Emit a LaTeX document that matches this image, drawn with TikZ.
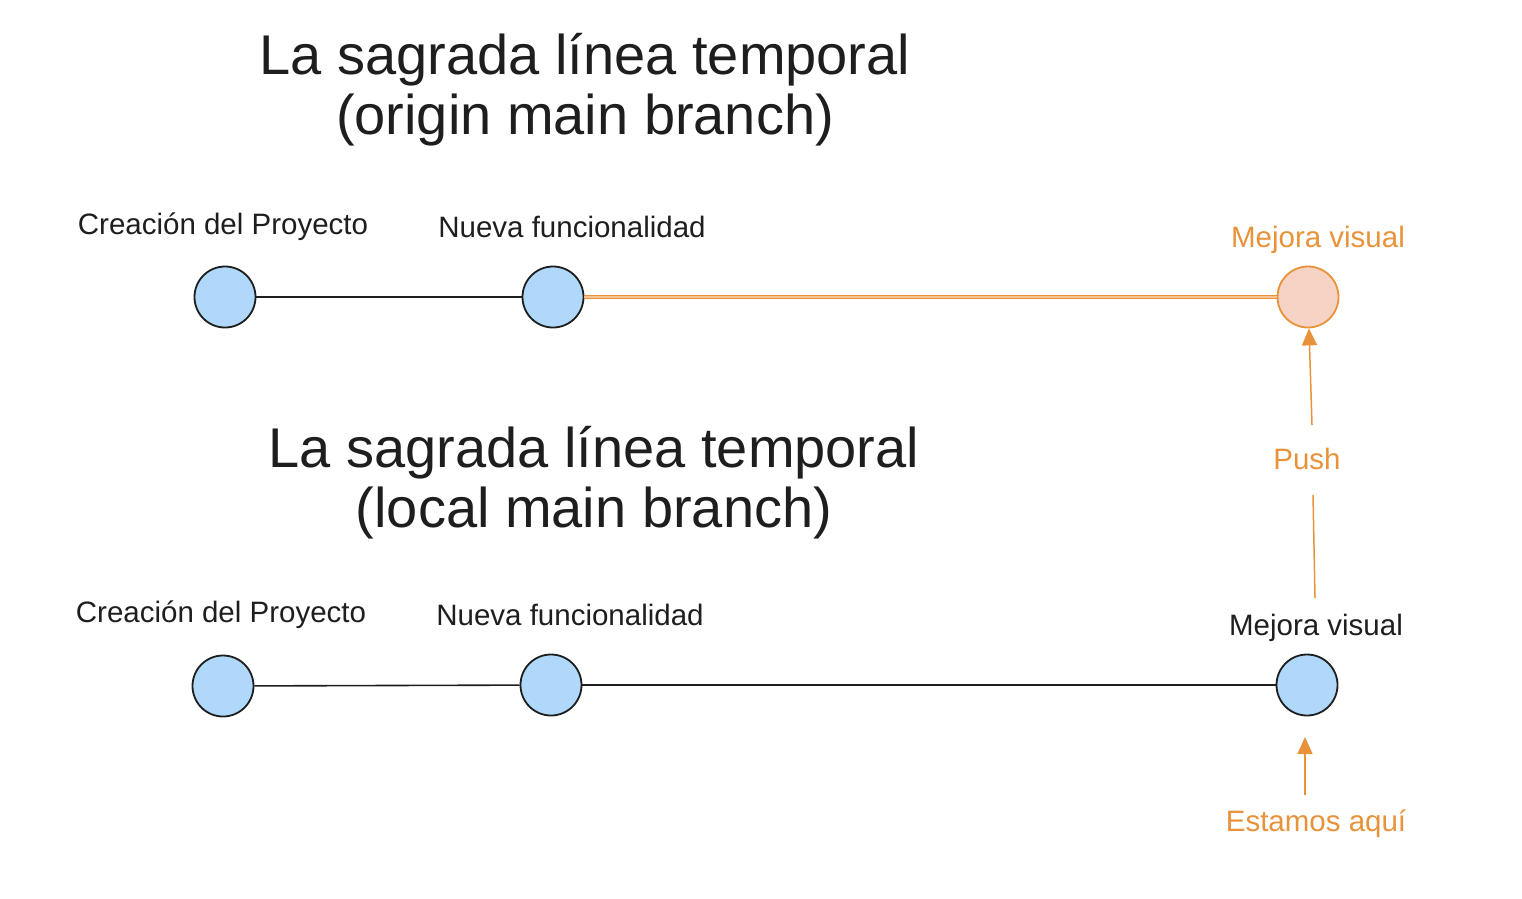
\documentclass[tikz,border=0pt]{standalone}
\usepackage{fontspec}
\setmainfont{Liberation Sans}
\usetikzlibrary{arrows.meta}
\definecolor{ink}{HTML}{1E1E1E}
\definecolor{orng}{HTML}{E8923A}
\definecolor{blu}{HTML}{B0D8FA}
\definecolor{pnk}{HTML}{F7D3C6}
\tikzset{
  commit/.style={circle, draw=ink, line width=1.8pt, fill=blu, minimum size=61pt, inner sep=0pt},
  newcommit/.style={commit, draw=orng, fill=pnk},
  lbl/.style={font=\fontsize{29.5}{34}\selectfont, text=ink, inner sep=0pt},
  olbl/.style={lbl, text=orng},
  title/.style={font=\fontsize{56}{64}\selectfont, text=ink, inner sep=0pt, align=center},
  link/.style={draw=ink, line width=1.6pt},
  olink/.style={draw=orng, line width=1.2pt, double=orng!55, double distance=1.2pt},
  oarrow/.style={draw=orng, line width=1.5pt, -{Triangle[length=17pt,width=15pt]}},
}
\begin{document}
\begin{tikzpicture}[x=1pt,y=-1pt]
\useasboundingbox (0,0) rectangle (1522,898);
% titles
\node[title] (t1a) at (585,60) {La sagrada línea temporal};
\node[title] (t1b) at (585,120) {(origin main branch)};
\node[title] (t2a) at (594,453) {La sagrada línea temporal};
\node[title] (t2b) at (594,513) {(local main branch)};
% top row
\node[commit] (a1) at (225,297) {};
\node[commit] (b1) at (553,297) {};
\node[newcommit] (c1) at (1308,297) {};
\node[lbl] (la1) at (223,227) {Creación del Proyecto};
\node[lbl] (lb1) at (572,227) {Nueva funcionalidad};
\node[olbl] (lc1) at (1318,240) {Mejora visual};
\draw[link] (a1) -- (b1);
\draw[olink] (b1) -- (c1);
% bottom row
\node[commit] (a2) at (223,686) {};
\node[commit] (b2) at (551,685) {};
\node[commit] (c2) at (1307,685) {};
\node[lbl] (la2) at (221,615) {Creación del Proyecto};
\node[lbl] (lb2) at (570,615) {Nueva funcionalidad};
\node[lbl] (lc2) at (1316,628) {Mejora visual};
\draw[link] (a2) -- (b2);
\draw[link] (b2) -- (c2);
% push arrow
\coordinate (ps) at (1315,598);
\coordinate (pm1) at (1313,495);
\coordinate (pm2) at (1312,425);
\node[olbl] (push) at (1307,459) {Push};
\draw[draw=orng, line width=1.5pt] (ps) -- (pm1);
\draw[oarrow] (pm2) -- (c1);
% estamos aqui
\node[olbl] (here) at (1316,824) {Estamos aquí};
\coordinate (hs) at (1305,795);
\coordinate (he) at (1305,737);
\draw[oarrow] (hs) -- (he);
\end{tikzpicture}
\end{document}
